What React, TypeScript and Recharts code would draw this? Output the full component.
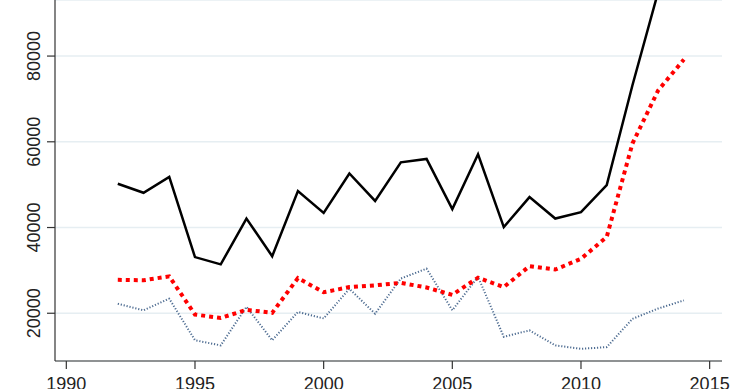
import React from "react";
import { LineChart, Line, XAxis, YAxis, CartesianGrid } from "recharts";

const years = [1992, 1993, 1994, 1995, 1996, 1997, 1998, 1999, 2000, 2001, 2002, 2003, 2004, 2005, 2006, 2007, 2008, 2009, 2010, 2011, 2012, 2013, 2014];
const totalSeries = [50200, 48100, 51800, 33100, 31400, 42100, 33300, 48500, 43400, 52600, 46200, 55200, 56000, 44300, 57100, 40100, 47100, 42100, 43600, 49900, 73200, 95000, 110000];
const redSeries = [27800, 27700, 28600, 19700, 18900, 20800, 20100, 28200, 24900, 26100, 26500, 27100, 26000, 24300, 28300, 26100, 31000, 30200, 32700, 37800, 59600, 72000, 79200];
const blueSeries = [22200, 20700, 23400, 13700, 12500, 21500, 13700, 20300, 18800, 25700, 19900, 28100, 30400, 20700, 28500, 14500, 16000, 12500, 11700, 12100, 18700, 21100, 23000];
const xTicks = [1990, 1995, 2000, 2005, 2010, 2015];
const yTicks = [20000, 40000, 60000, 80000];

const data = years.map((year, i) => ({
  year,
  total: totalSeries[i],
  red: redSeries[i],
  blue: blueSeries[i],
}));

const font = "'Liberation Sans', Arial, sans-serif";

const YTick = (props: any) => {
  const { y, payload } = props;
  return (
    <text
      transform={`translate(40,${y}) rotate(-90)`}
      textAnchor="middle"
      fontSize={18}
      fontFamily={font}
      fill="#222"
    >
      {payload.value}
    </text>
  );
};

const XTick = (props: any) => {
  const { x, payload } = props;
  return (
    <text x={x} y={390} textAnchor="middle" fontSize={18} fontFamily={font} fill="#222">
      {payload.value}
    </text>
  );
};

export default function App() {
  return (
    <div style={{ position: "absolute", left: 0, top: 0, width: 740, height: 389, background: "#fff" }}>
      <LineChart width={740} height={389} data={data} margin={{ top: 0, right: 18, bottom: 0, left: 0 }}>
        <CartesianGrid horizontal={true} vertical={false} stroke="#e6eef2" strokeWidth={1.5} />
        <XAxis
          dataKey="year"
          type="number"
          domain={[1989.56, 2015.48]}
          ticks={xTicks}
          allowDataOverflow
          height={28}
          tickSize={8}
          axisLine={{ stroke: "#333", strokeWidth: 1.2 }}
          tickLine={{ stroke: "#333", strokeWidth: 1.2 }}
          tick={<XTick />}
          interval={0}
        />
        <YAxis
          type="number"
          domain={[8860, 93080]}
          ticks={yTicks}
          allowDataOverflow
          width={55}
          tickSize={8}
          axisLine={{ stroke: "#333", strokeWidth: 1.2 }}
          tickLine={{ stroke: "#333", strokeWidth: 1.2 }}
          tick={<YTick />}
          interval={0}
        />
        <Line
          type="linear"
          dataKey="blue"
          stroke="#4f6d92"
          strokeWidth={2}
          strokeDasharray="1.2 1.8"
          dot={false}
          isAnimationActive={false}
        />
        <Line
          type="linear"
          dataKey="red"
          stroke="#ff0000"
          strokeWidth={4}
          strokeDasharray="4 4"
          dot={false}
          isAnimationActive={false}
        />
        <Line
          type="linear"
          dataKey="total"
          stroke="#000"
          strokeWidth={2.5}
          dot={false}
          isAnimationActive={false}
        />
      </LineChart>
    </div>
  );
}
